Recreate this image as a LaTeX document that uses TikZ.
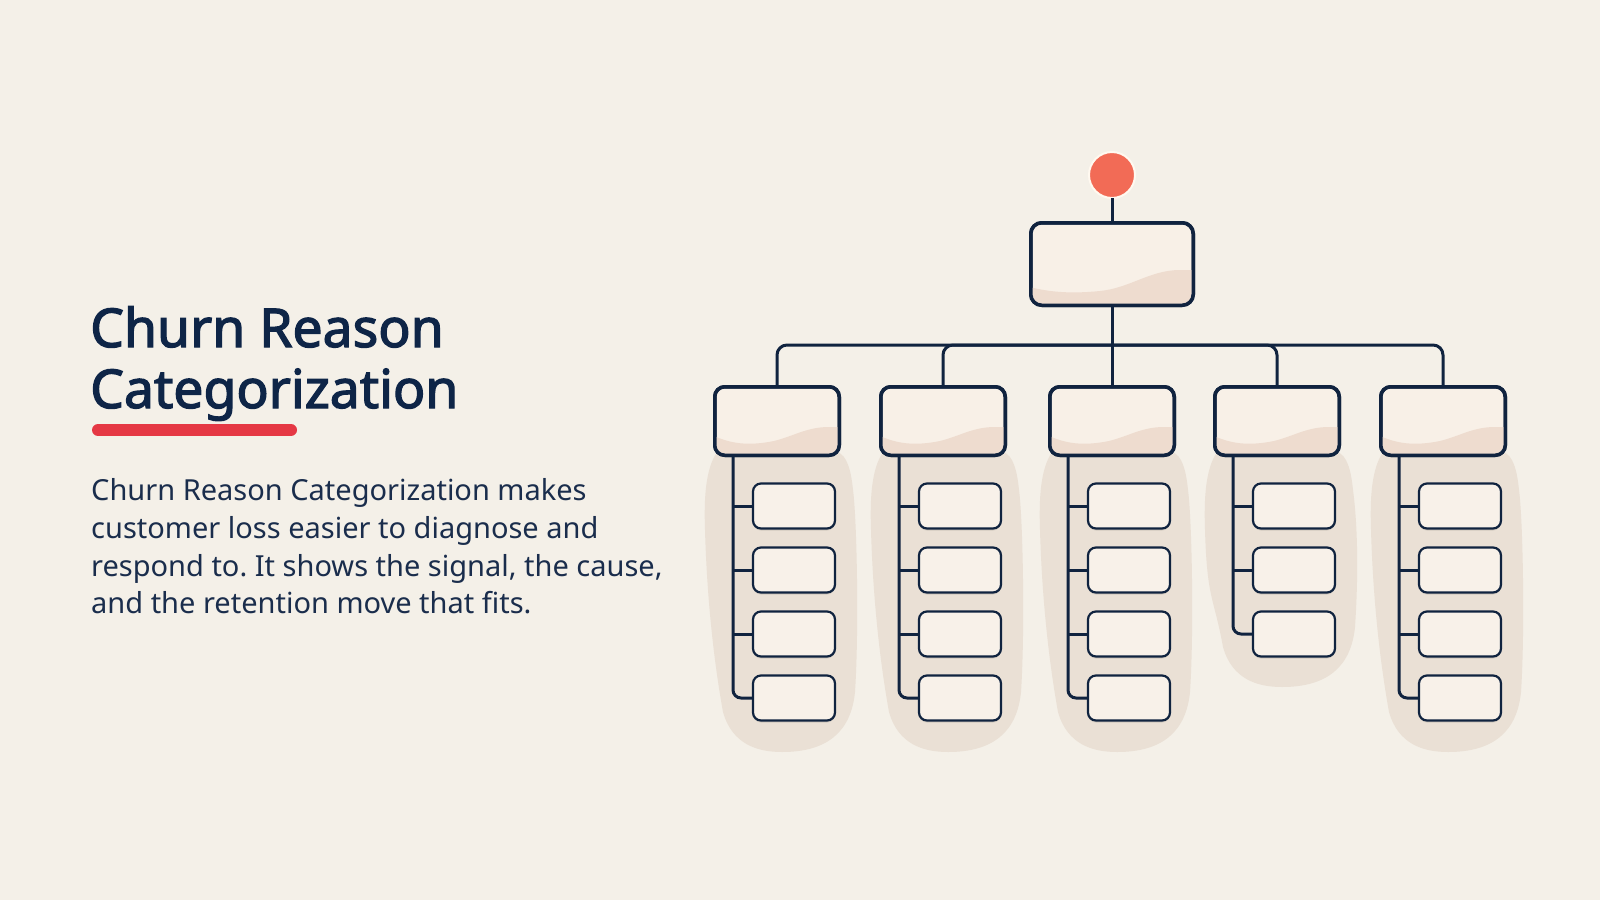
\documentclass[tikz,border=0pt]{standalone}
\usepackage{fontspec}
\setmainfont{Noto Sans}
\newfontfamily\titlefont{Noto Sans}[AutoFakeBold=2.4]
\frenchspacing
\usetikzlibrary{shadows}
\definecolor{bg}{HTML}{F4F0E8}
\definecolor{navy}{HTML}{10233F}
\definecolor{titlecol}{HTML}{0E2547}
\definecolor{bodycol}{HTML}{1A2D4C}
\definecolor{redbar}{HTML}{E53844}
\definecolor{blobcol}{HTML}{EAE0D5}
\definecolor{headfill}{HTML}{F8F0E7}
\definecolor{wavecol}{HTML}{EEDCCF}
\definecolor{subfill}{HTML}{F8F1E9}
\definecolor{coral}{HTML}{F26B56}
\definecolor{ring}{HTML}{FFF9F0}
\tikzset{
  conn/.style={draw=navy, line width=3bp},
  softshadow/.style={drop shadow={shadow xshift=0bp, shadow yshift=-2bp, fill=black, opacity=0.10}},
  hbox/.style={draw=navy, line width=3.5bp, fill=headfill, rounded corners=10bp,
    minimum width=124.5bp, minimum height=68.5bp, inner sep=0pt, outer sep=0pt, softshadow},
  topbox/.style={draw=navy, line width=3.5bp, fill=headfill, rounded corners=11bp,
    minimum width=162.5bp, minimum height=82.5bp, inner sep=0pt, outer sep=0pt, softshadow},
  boxline/.style={draw=navy, line width=3.5bp},
  subbox/.style={draw=navy, line width=2.2bp, fill=subfill, rounded corners=8bp,
    minimum width=82bp, minimum height=45bp, inner sep=0pt, outer sep=0pt, softshadow},
  dotnode/.style={circle, fill=coral, draw=ring, line width=2bp, minimum size=46bp, inner sep=0pt, outer sep=0pt},
  titletext/.style={anchor=base west, inner sep=0pt, text=titlecol, font=\titlefont\fontsize{53.5bp}{64bp}\selectfont\bfseries},
  bodytext/.style={anchor=base west, inner sep=0pt, text=bodycol, font=\fontsize{29bp}{34bp}\selectfont},
}
% blob behind a column: #1 = centre x, #2 = bottom y
\newcommand\blobfill[2]{%
  \fill[blobcol] ({#1-60},452) .. controls ({#1-72},470) and ({#1-73},500) .. ({#1-72},530)
    .. controls ({#1-70},600) and ({#1-63},{#2-90}) .. ({#1-54},{#2-40})
    .. controls ({#1-45},{#2-8}) and ({#1-20},{#2}) .. ({#1+5},{#2})
    .. controls ({#1+50},{#2}) and ({#1+74},{#2-20}) .. ({#1+78},{#2-60})
    .. controls ({#1+82},{#2-120}) and ({#1+80},520) .. ({#1+76},490)
    .. controls ({#1+74},470) and ({#1+70},455) .. ({#1+60},452) -- cycle;}
% wave band in a header box
\newcommand\headwave[1]{%
  \begin{scope}
  \clip[rounded corners=10bp] ({#1-62.25},455.25) rectangle ({#1+62.25},386.75);
  \fill[wavecol] ({#1-63},436) .. controls ({#1-45},444) and ({#1-28},446) .. ({#1-3},441)
    .. controls ({#1+17},436) and ({#1+30},427) .. ({#1+52},427) -- ({#1+64},427)
    -- ({#1+64},457) -- ({#1-64},457) -- cycle;
  \end{scope}}
\begin{document}
\begin{tikzpicture}[x=1bp, y=-1bp]
\useasboundingbox (0,0) rectangle (1600,900);
\fill[bg] (0,0) rectangle (1600,900);

% left text
\node[titletext] (t1) at (90,347) {Churn Reason};
\node[titletext] (t2) at (90,408) {Categorization};
\draw[redbar, line width=12bp, line cap=round] (98,430) -- (291,430);
\node[bodytext] (b1) at (91,500) {Churn Reason Categorization makes};
\node[bodytext] (b2) at (91,538) {customer loss easier to diagnose and};
\node[bodytext] (b3) at (91,576) {respond to. It shows the signal, the cause,};
\node[bodytext] (b4) at (91,613) {and the retention move that fits.};

% columns
\foreach \i/\c/\n in {1/777/4, 2/943/4, 3/1112/4, 4/1277/3, 5/1443/4}{
  \pgfmathsetmacro\yb{\n==4 ? 752 : 687}
  \blobfill{\c}{\yb}
}
\node[dotnode] (dot) at (1112,175) {};
\node[topbox] (top) at (1112,264) {};
\begin{scope}
  \clip[rounded corners=11bp] (top.south west) rectangle (top.north east);
  \fill[wavecol] (1029,287) .. controls (1050,292) and (1070,294) .. (1100,291)
    .. controls (1130,288) and (1150,270) .. (1180,270) -- (1197,270)
    -- (1197,308) -- (1029,308) -- cycle;
\end{scope}
\draw[boxline, rounded corners=11bp] (top.south west) rectangle (top.north east);
\coordinate (bus) at (1112,345);
\foreach \i/\c/\n in {1/777/4, 2/943/4, 3/1112/4, 4/1277/3, 5/1443/4}{
  \node[hbox] (h\i) at (\c,421) {};
  \headwave{\c}
  \draw[boxline, rounded corners=10bp] (h\i.south west) rectangle (h\i.north east);
  \coordinate (sp\i) at ([xshift=-44bp]h\i.south);
  \foreach \k in {1,...,\n}{
    \node[subbox] (s\i-\k) at ({\c+17},{506+64*(\k-1)}) {};
  }
  \draw[conn, rounded corners=8bp] (sp\i) |- (s\i-\n.west);
  \pgfmathtruncatemacro\m{\n-1}
  \foreach \k in {1,...,\m}{
    \draw[conn] (sp\i |- s\i-\k.west) -- (s\i-\k.west);
  }
}
\draw[conn] (dot.south) -- (top.north);
\draw[conn] (top.south) -- (h3.north);
\draw[conn, rounded corners=10bp] (bus) -| (h1.north);
\draw[conn, rounded corners=10bp] (bus) -| (h2.north);
\draw[conn, rounded corners=10bp] (bus) -| (h4.north);
\draw[conn, rounded corners=10bp] (bus) -| (h5.north);
\end{tikzpicture}
\end{document}
